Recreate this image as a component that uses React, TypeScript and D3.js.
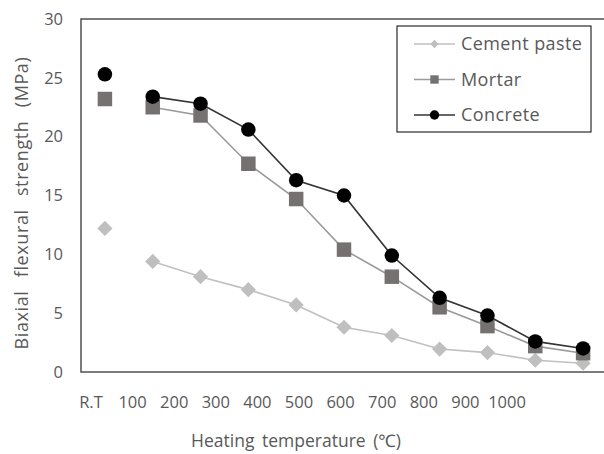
import React, { useEffect, useRef } from 'react'
import * as d3 from 'd3'

const categories = ['R.T', '100', '200', '300', '400', '500', '600', '700', '800', '900', '1000']
const cementPaste = [12.2, 9.4, 8.1, 7.0, 5.7, 3.8, 3.1, 1.95, 1.65, 1.0, 0.75]
const mortar = [23.2, 22.5, 21.8, 17.7, 14.7, 10.4, 8.1, 5.5, 3.9, 2.2, 1.6]
const concrete = [25.3, 23.4, 22.8, 20.6, 16.3, 15.0, 9.9, 6.3, 4.8, 2.6, 2.0]
const yTicks = [0, 5, 10, 15, 20, 25, 30]

const FONT = '"Open Sans", "Noto Sans", sans-serif'
const TEXT = '#595959'

// rotated square for the cement paste marker
const diamond = {
  draw(ctx: d3.Path, size: number) {
    const r = Math.sqrt(size / 2)
    ctx.moveTo(0, -r)
    ctx.lineTo(r, 0)
    ctx.lineTo(0, r)
    ctx.lineTo(-r, 0)
    ctx.closePath()
  },
}

export default function App() {
  const svgRef = useRef<SVGSVGElement>(null)

  useEffect(() => {
    if (!svgRef.current) return
    const svg = d3.select(svgRef.current)
    svg.selectAll('*').remove()

    const left = 81
    const right = 607
    const top = 19
    const bottom = 372

    const x = d3.scaleBand().domain(categories).range([left, right]).padding(0)
    const xLabel = d3.scalePoint().domain(categories).range([91, 507])
    const y = d3.scaleLinear().domain([0, 30]).range([bottom, top])
    const cx = (c: string) => (x(c) || 0) + x.bandwidth() / 2

    svg
      .append('rect')
      .attr('x', left)
      .attr('y', top)
      .attr('width', right - left)
      .attr('height', bottom - top)
      .attr('fill', 'none')
      .attr('stroke', '#505050')
      .attr('stroke-width', 1.5)

    svg
      .append('g')
      .selectAll('text')
      .data(yTicks)
      .join('text')
      .attr('x', 63)
      .attr('y', (d) => y(d))
      .attr('dy', '0.35em')
      .attr('text-anchor', 'end')
      .attr('font-size', 16.5)
      .attr('font-family', FONT)
      .attr('fill', TEXT)
      .text((d) => d)

    svg
      .append('g')
      .selectAll('text')
      .data(categories)
      .join('text')
      .attr('x', (d) => xLabel(d) || 0)
      .attr('y', 402)
      .attr('dy', '0.35em')
      .attr('text-anchor', 'middle')
      .attr('font-size', 16.5)
      .attr('font-family', FONT)
      .attr('fill', TEXT)
      .text((d) => d)

    svg
      .append('text')
      .attr('x', 296)
      .attr('y', 441)
      .attr('dy', '0.35em')
      .attr('text-anchor', 'middle')
      .attr('font-size', 17.5)
      .attr('word-spacing', 3)
      .attr('font-family', FONT)
      .attr('fill', TEXT)
      .text('Heating temperature (℃)')

    svg
      .append('text')
      .attr('transform', `translate(22,203) rotate(-90)`)
      .attr('dy', '0.35em')
      .attr('text-anchor', 'middle')
      .attr('font-size', 18)
      .attr('letter-spacing', 0.6)
      .attr('word-spacing', 8)
      .attr('font-family', FONT)
      .attr('fill', TEXT)
      .text('Biaxial flexural strength (MPa)')

    const series = [
      { name: 'Cement paste', values: cementPaste, line: '#c0c0c0', fill: '#bfbfbf', shape: diamond, size: 115, legendSize: 36 },
      { name: 'Mortar', values: mortar, line: '#9a9a9a', fill: '#767171', shape: d3.symbolSquare, size: 210, legendSize: 70 },
      { name: 'Concrete', values: concrete, line: '#333333', fill: '#000000', shape: d3.symbolCircle, size: 165, legendSize: 70 },
    ]

    const line = d3
      .line<{ c: string; v: number }>()
      .x((d) => cx(d.c))
      .y((d) => y(d.v))

    series.forEach((s) => {
      const pts = categories.map((c, i) => ({ c, v: s.values[i] }))
      svg
        .append('path')
        .datum(pts.slice(1))
        .attr('fill', 'none')
        .attr('stroke', s.line)
        .attr('stroke-width', 1.6)
        .attr('d', line)
      svg
        .append('g')
        .selectAll('path')
        .data(pts)
        .join('path')
        .attr('transform', (d) => `translate(${cx(d.c)},${y(d.v)})`)
        .attr('d', d3.symbol().type(s.shape).size(s.size)())
        .attr('fill', s.fill)
    })

    const legend = svg.append('g')
    legend
      .append('rect')
      .attr('x', 397)
      .attr('y', 26)
      .attr('width', 194)
      .attr('height', 106)
      .attr('fill', 'white')
      .attr('stroke', '#000')
      .attr('stroke-width', 1)

    series.forEach((s, i) => {
      const ly = 44 + i * 35.5
      legend
        .append('line')
        .attr('x1', 414)
        .attr('x2', 455)
        .attr('y1', ly)
        .attr('y2', ly)
        .attr('stroke', s.line)
        .attr('stroke-width', 1.6)
      legend
        .append('path')
        .attr('transform', `translate(434.5,${ly})`)
        .attr('d', d3.symbol().type(s.shape).size(s.legendSize)())
        .attr('fill', s.fill)
      legend
        .append('text')
        .attr('x', 461)
        .attr('y', ly)
        .attr('dy', '0.35em')
        .attr('font-size', 18)
        .attr('letter-spacing', 0.4)
        .attr('font-family', FONT)
        .attr('fill', TEXT)
        .text(s.name)
    })
  }, [])

  return (
    <svg
      ref={svgRef}
      width={604}
      height={454}
      style={{ position: 'absolute', left: 0, top: 0, background: 'white' }}
    />
  )
}
